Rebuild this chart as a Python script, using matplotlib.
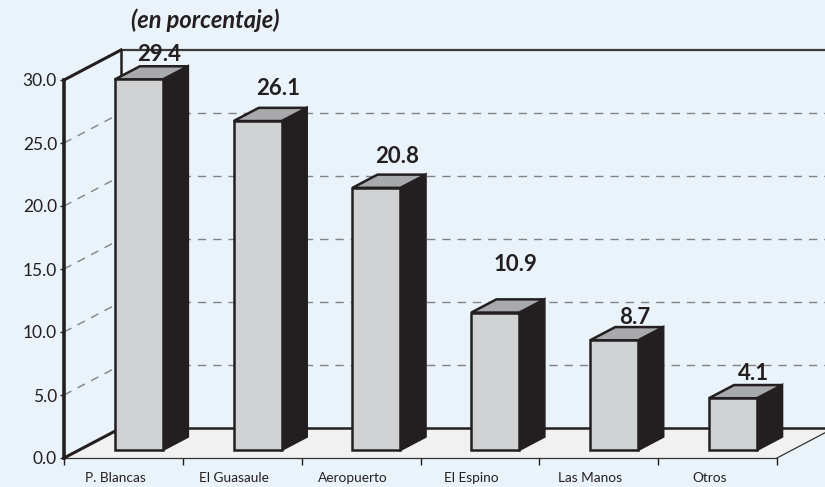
import matplotlib.pyplot as plt
from matplotlib.patches import Polygon

# Datos (en porcentaje)
puestos = ["P. Blancas", "El Guasaule", "Aeropuerto", "El Espino", "Las Manos", "Otros"]
valores = [29.4, 26.1, 20.8, 10.9, 8.7, 4.1]
ticks_y = [0, 5, 10, 15, 20, 25, 30]
etiquetas_y = ["0.0", "5.0", "10.0", "15.0", "20.0", "25.0", "30.0"]

# estilo
FONDO = "#ebf3fa"
PISO = "#f1f1f2"
FRENTE = "#d1d2d4"
TAPA = "#a7a9ac"
LADO = "#231f20"
FUENTE = ["Lato", "DejaVu Sans"]
label_lift_px = [25, 33, 31, 48, 23, 25]   # separacion de cada etiqueta sobre la barra

PX_X = 713 / 6      # pixeles por categoria
PX_Y = 378 / 30     # pixeles por unidad
DX = 57 / PX_X      # profundidad del grafico 3d
DY = 30 / PX_Y
F0 = 0.27           # posicion de la barra en la profundidad
FB = 0.44           # profundidad de la barra
ANCHO = 0.404

plt.rcParams['font.family'] = FUENTE

fig = plt.figure(figsize=(8.25, 4.87), dpi=100, facecolor=FONDO)
ax = fig.add_axes([64 / 825, 29 / 487, 713 / 825, 378 / 487])
ax.set_facecolor(FONDO)
ax.set_xlim(0, len(puestos))
ax.set_ylim(0, 30)
for s in ax.spines.values():
    s.set_visible(False)

x_der = (825 - 64) / PX_X + 0.2  # hasta el borde derecho

# piso
piso = Polygon([(0, 0), (len(puestos), 0), (len(puestos) + DX, DY), (DX, DY)],
               closed=True, facecolor=PISO, edgecolor="none", zorder=1, clip_on=False)
ax.add_patch(piso)
ax.plot([0, len(puestos)], [0, 0], color="#333333", lw=0.9, zorder=2, clip_on=False)
ax.plot([len(puestos), len(puestos) + DX], [0, DY], color="#333333", lw=0.9, zorder=2, clip_on=False)

# pared del fondo: lineas guia
for t in ticks_y[1:-1]:
    ax.plot([DX, x_der], [t + DY, t + DY], color="#808285", lw=1.0, ls=(0, (6, 5)), zorder=1, clip_on=False)
    ax.plot([0, DX], [t, t + DY], color="#808285", lw=1.0, ls=(0, (6, 5)), zorder=1, clip_on=False)
ax.plot([DX, x_der], [30 + DY, 30 + DY], color="#3a3a3a", lw=1.6, zorder=1, clip_on=False)
ax.plot([DX, x_der], [DY, DY], color="#231f20", lw=1.8, zorder=2, clip_on=False)
ax.plot([DX, DX], [DY, 30 + DY], color="#231f20", lw=1.8, zorder=2, clip_on=False)

# pared izquierda
ax.plot([0, 0], [0, 30], color="#231f20", lw=2.6, zorder=3, clip_on=False)
ax.plot([0, DX], [30, 30 + DY], color="#231f20", lw=2.2, zorder=3, clip_on=False)
ax.plot([0, DX], [0, DY], color="#231f20", lw=2.2, zorder=3, clip_on=False)

# barras
for i, v in enumerate(valores):
    x0 = i + 0.5 - ANCHO / 2 + F0 * DX
    x1 = x0 + ANCHO
    y0 = F0 * DY
    ddx, ddy = FB * DX, FB * DY
    frente = [(x0, y0), (x1, y0), (x1, y0 + v), (x0, y0 + v)]
    lado = [(x1, y0), (x1 + ddx, y0 + ddy), (x1 + ddx, y0 + v + ddy), (x1, y0 + v)]
    tapa = [(x0, y0 + v), (x1, y0 + v), (x1 + ddx, y0 + v + ddy), (x0 + ddx, y0 + v + ddy)]
    for pts, col in [(lado, LADO), (tapa, TAPA), (frente, FRENTE)]:
        ax.add_patch(Polygon(pts, closed=True, facecolor=col, edgecolor="#231f20",
                             lw=1.8, joinstyle="miter", zorder=5 + i, clip_on=False))
    xt = (x0 + x1) / 2 + ddx / 2 + 8 / PX_X
    yt = y0 + v + label_lift_px[i] / PX_Y
    ax.text(xt, yt, f"{v:.1f}", ha="center", va="center", fontsize=16,
            fontweight="bold", color="#231f20", zorder=20)

# ejes
ax.set_yticks(ticks_y)
ax.set_yticklabels(etiquetas_y, fontsize=12.5, color="#231f20")
ax.tick_params(axis="y", length=3, width=1, color="#231f20", pad=2)
ax.set_xticks(range(len(puestos) + 1))
ax.set_xticklabels([])
ax.tick_params(axis="x", length=5, width=1, color="#231f20", direction="out")
for i, nombre in enumerate(puestos):
    ax.text(i + 0.43, -1.55, nombre, ha="center", va="center", fontsize=9.8, color="#231f20")

fig.text(205 / 825, 1 - 20 / 487, "(en porcentaje)", ha="center", va="center",
         fontsize=17, fontweight="bold", fontstyle="italic", color="#231f20")

fig.savefig("out.png", dpi=100, facecolor=FONDO)
